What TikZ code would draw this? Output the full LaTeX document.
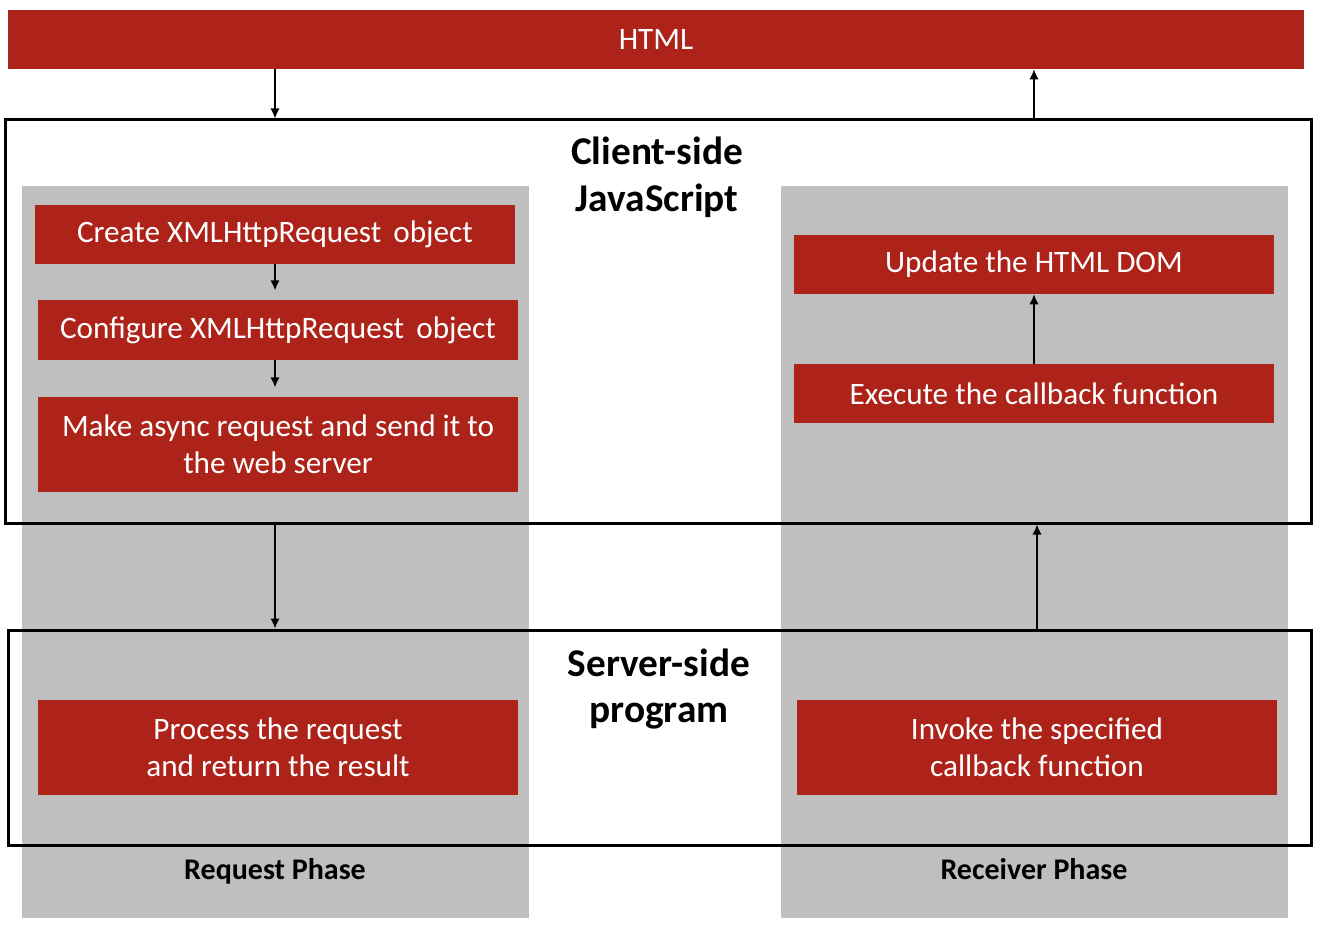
\documentclass[tikz,border=0pt]{standalone}
\usepackage{fontspec}
\setmainfont{Carlito}
\usetikzlibrary{arrows.meta,calc}
\definecolor{ajaxred}{RGB}{174,35,25}
\definecolor{phasegray}{RGB}{191,191,191}
\tikzset{
  stepbox/.style={fill=ajaxred,text=white,minimum width=360pt,align=center,inner sep=0pt,
    font=\fontsize{23.4}{28}\selectfont},
  layerbox/.style={draw=black,line width=2.25pt,inner sep=0pt},
  colbox/.style={fill=phasegray,minimum width=380.25pt,minimum height=549pt,inner sep=0pt},
  titletext/.style={align=center,font=\fontsize{29.5}{35}\selectfont\bfseries},
  phasetext/.style={font=\fontsize{22.5}{27}\selectfont\bfseries,anchor=base,inner sep=0pt},
  arr/.style={line width=1.3pt,-{Latex[length=7.5pt,width=7pt]}},
}
\begin{document}
\begin{tikzpicture}[x=0.75pt,y=0.75pt,yscale=-1,xscale=1]
\useasboundingbox (0,0) rectangle (1320,930);
%Shape: Rectangle [columns]
\node[colbox] (reqcol) at (275.5,552) {};
\node[colbox] (rcvcol) at (1034.5,552) {};
%Shape: Rectangle [HTML bar]
\node[stepbox,minimum width=972pt,minimum height=44.25pt] (html) at (656,39.5) {HTML};
%Shape: Rectangle [layers]
\node[layerbox,minimum width=979.5pt,minimum height=302.25pt] (client) at (658,321.5) {};
\node[layerbox,minimum width=977.25pt,minimum height=161.25pt] (server) at (659.5,737.5) {};

% Text Node
\node[titletext] (clienttitle) at (657,177) {Client-side\\JavaScript};
% Text Node
\node[titletext] (servertitle) at (659,689) {Server-side\\program};

%Request side
\node[stepbox,minimum height=44.25pt] (create) at (275,234.5) {Create XMLHttpRequest\, object};
\node[stepbox,minimum height=45pt] (config) at (278,330) {Configure XMLHttpRequest\, object};
\node[stepbox,minimum height=71.25pt] (async) at (278,444.5) {Make async request and send it to\\the web server};
\node[stepbox,minimum height=71.25pt] (process) at (278,747.5) {Process the request\\and return the result};

%Receiver side
\node[stepbox,minimum height=44.25pt] (update) at (1034,264.5) {Update the HTML DOM};
\node[stepbox,minimum height=44.25pt] (execute) at (1034,393.5) {Execute the callback function};
\node[stepbox,minimum height=71.25pt] (invoke) at (1037,747.5) {Invoke the specified\\callback function};

% Text Node
\node[phasetext] (reqphase) at (275,879) {Request Phase};
% Text Node
\node[phasetext] (rcvphase) at (1034,879) {Receiver Phase};

%Straight Lines
\draw[arr] (create |- html.south) -- (create |- client.north);
\draw[arr] (update |- client.north) -- (update |- html.south);
\draw[arr,shorten >=7pt] (create.south) -- (create |- config.north);
\draw[arr,shorten >=7pt] (create |- config.south) -- (create |- async.north);
\draw[arr] (execute.north) -- (update.south);
\draw[arr] (create |- client.south) -- (create |- server.north);
\draw[arr] (invoke |- server.north) -- (invoke |- client.south);
\end{tikzpicture}
\end{document}
